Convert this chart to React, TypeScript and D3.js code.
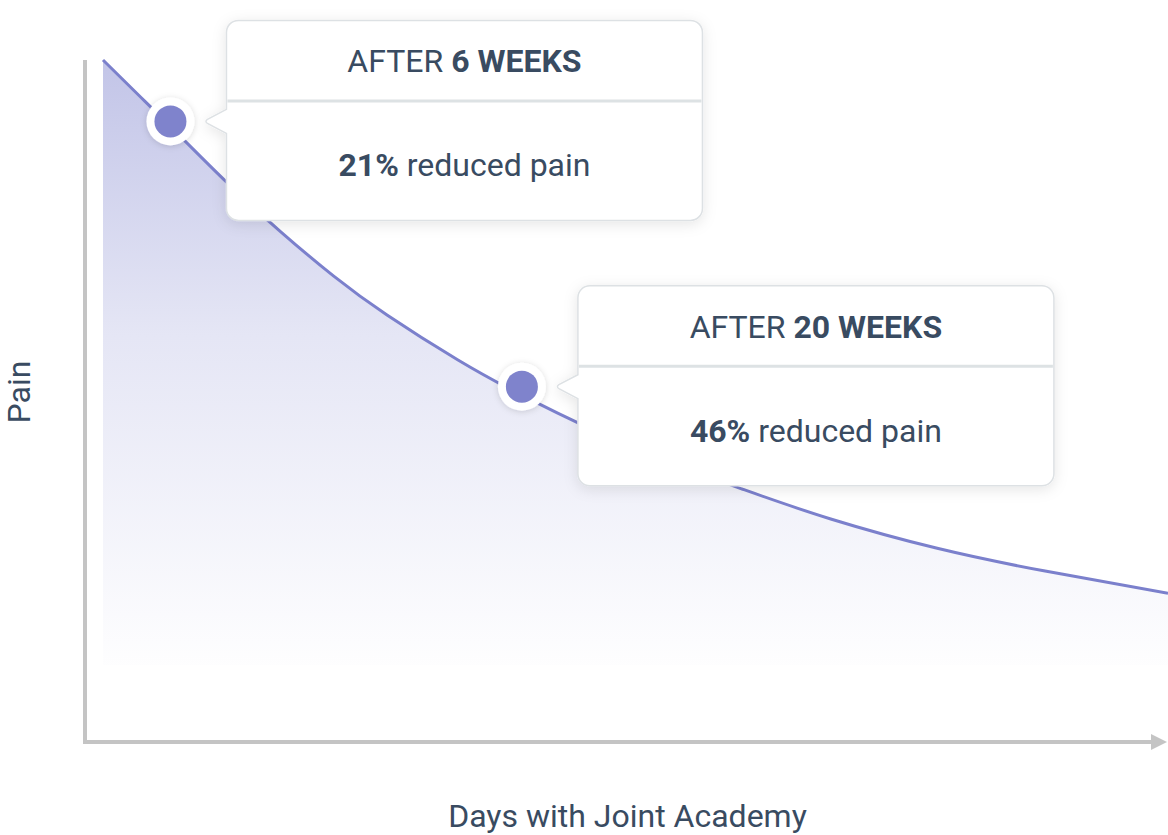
import React from 'react';
import * as d3 from 'd3';

// Pain curve (days with Joint Academy vs. relative pain)
const days = [0, 10, 20, 35, 50, 65, 80, 100, 120, 150, 180, 205, 235, 265, 300];
const pain = [100, 94.87, 89.74, 82.0, 74.85, 68.3, 62.6, 56.0, 50.3, 43.0, 37.1, 32.7, 28.4, 25.1, 21.8];

// Highlighted milestones
const milestoneDays = [19, 118];
const milestonePain = [91, 52.1];
const milestoneWeeks = ['6 WEEKS', '20 WEEKS'];
const milestoneReduction = ['21%', '46%'];

const xLabel = 'Days with Joint Academy';
const yLabel = 'Pain';

const W = 1168;
const H = 835;
const FLOOR = 11.3; // where the shaded area fades out

const lineColor = '#7b80cc';
const textColor = '#394b61';
const axisColor = '#c4c4c4';
const font = 'Roboto, "Noto Sans", sans-serif';

const calloutPath = (x0: number, top: number, w: number, h: number, r: number, tipY: number) => {
  const tipX = x0 - 22;
  return [
    `M${x0 + r},${top}`,
    `H${x0 + w - r}`,
    `A${r},${r} 0 0 1 ${x0 + w},${top + r}`,
    `V${top + h - r}`,
    `A${r},${r} 0 0 1 ${x0 + w - r},${top + h}`,
    `H${x0 + r}`,
    `A${r},${r} 0 0 1 ${x0},${top + h - r}`,
    `V${tipY + 12}`,
    `L${tipX + 3},${tipY + 2}`,
    `Q${tipX},${tipY} ${tipX + 3},${tipY - 2}`,
    `L${x0},${tipY - 12}`,
    `V${top + r}`,
    `A${r},${r} 0 0 1 ${x0 + r},${top}`,
    'Z',
  ].join(' ');
};

const App: React.FC = () => {
  const x = d3.scaleLinear().domain([0, 300]).range([103, 1168]);
  const y = d3.scaleLinear().domain([0, 100]).range([742, 60]);

  const pts = days.map((d, i) => [d, pain[i]] as [number, number]);

  const line = d3.line<[number, number]>()
    .x(d => x(d[0]))
    .y(d => y(d[1]))
    .curve(d3.curveNatural);

  const area = d3.area<[number, number]>()
    .x(d => x(d[0]))
    .y0(y(FLOOR))
    .y1(d => y(d[1]))
    .curve(d3.curveNatural);

  const axisX = 85;
  const axisY = y(0);

  return (
    <div style={{ position: 'absolute', left: 0, top: 0 }}>
      <svg width={W} height={H} style={{ display: 'block' }}>
        <defs>
          <linearGradient id="painFill" gradientUnits="userSpaceOnUse" x1={0} y1={y(100)} x2={0} y2={y(FLOOR)}>
            <stop offset="0%" stopColor={lineColor} stopOpacity={0.46} />
            <stop offset="45%" stopColor={lineColor} stopOpacity={0.2} />
            <stop offset="100%" stopColor={lineColor} stopOpacity={0.01} />
          </linearGradient>
          <filter id="boxShadow" x="-20%" y="-20%" width="140%" height="140%">
            <feDropShadow dx="0" dy="3" stdDeviation="7" floodColor="#000" floodOpacity="0.1" />
          </filter>
          <filter id="dotShadow" x="-50%" y="-50%" width="200%" height="200%">
            <feDropShadow dx="0" dy="1" stdDeviation="3" floodColor="#000" floodOpacity="0.15" />
          </filter>
        </defs>

        {/* shaded area + curve */}
        <path d={area(pts) ?? ''} fill="url(#painFill)" />
        <path d={line(pts) ?? ''} fill="none" stroke={lineColor} strokeWidth={3} />

        {/* axes */}
        <line x1={axisX} x2={axisX} y1={y(100)} y2={axisY + 2} stroke={axisColor} strokeWidth={4} />
        <line x1={axisX - 2} x2={1153} y1={axisY} y2={axisY} stroke={axisColor} strokeWidth={4} />
        <path d={`M1151,${axisY - 8} L1167,${axisY} L1151,${axisY + 8} Z`} fill={axisColor} />

        {/* callouts */}
        {milestoneDays.map((d, i) => {
          const cx = x(d);
          const cy = y(milestonePain[i]);
          const x0 = cx + 56;
          const top = cy - 101;
          const w = 476;
          const h = 200;
          return (
            <g key={`callout-${i}`}>
              <path
                d={calloutPath(x0, top, w, h, 12, cy)}
                fill="#fff"
                stroke="#dde1e4"
                strokeWidth={1.5}
                filter="url(#boxShadow)"
              />
              <line x1={x0 + 1} x2={x0 + w - 1} y1={top + 80.5} y2={top + 80.5} stroke="#dde2e4" strokeWidth={3} />
              <text
                x={x0 + w / 2}
                y={top + 52}
                textAnchor="middle"
                fontFamily={font}
                fontSize={32}
                fill={textColor}
              >
                AFTER <tspan fontWeight={700}>{milestoneWeeks[i]}</tspan>
              </text>
              <text
                x={x0 + w / 2}
                y={top + 156}
                textAnchor="middle"
                fontFamily={font}
                fontSize={32}
                fill={textColor}
              >
                <tspan fontWeight={700}>{milestoneReduction[i]}</tspan> reduced pain
              </text>
            </g>
          );
        })}

        {/* milestone dots */}
        {milestoneDays.map((d, i) => (
          <g key={`dot-${i}`}>
            <circle cx={x(d)} cy={y(milestonePain[i])} r={24} fill="#fff" filter="url(#dotShadow)" />
            <circle cx={x(d)} cy={y(milestonePain[i])} r={16} fill="#7f83cc" />
          </g>
        ))}

        {/* axis titles */}
        <text
          transform={`translate(30,392) rotate(-90)`}
          textAnchor="middle"
          fontFamily={font}
          fontSize={32}
          fill={textColor}
        >
          {yLabel}
        </text>
        <text x={627.5} y={827} textAnchor="middle" fontFamily={font} fontSize={32} fill={textColor}>
          {xLabel}
        </text>
      </svg>
    </div>
  );
};

export default App;
